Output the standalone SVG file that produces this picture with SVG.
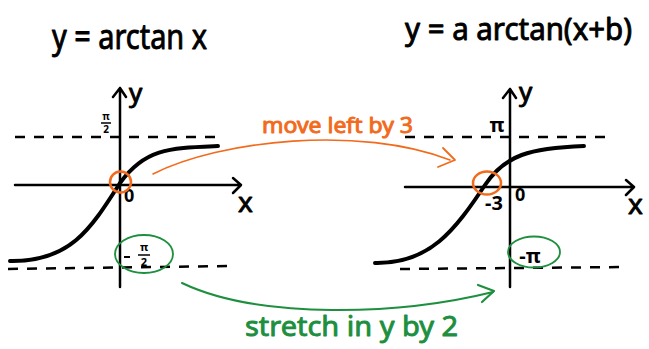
<svg xmlns="http://www.w3.org/2000/svg" width="649" height="349" viewBox="0 0 649 349">
<style>
  .ax{stroke:#000;stroke-width:2.5;fill:none;stroke-linecap:round;stroke-linejoin:round}
  .dash{stroke:#000;stroke-width:2.5;fill:none;stroke-dasharray:10 9}
  .curve{stroke:#000;stroke-width:4;fill:none;stroke-linecap:round}
  .or{stroke:#f26a1b;fill:none;stroke-linecap:round;stroke-linejoin:round}
  .gr{stroke:#1d8f3e;fill:none;stroke-linecap:round;stroke-linejoin:round}
  text{font-family:"Noto Sans","DejaVu Sans",sans-serif}
  .t{fill:#000}
  .h{stroke-width:0.9;stroke-linejoin:round}
</style>
<rect width="649" height="349" fill="#fff"/>

<g id="left-plot">
  <text class="t h" stroke="#000" x="52" y="49" font-size="34" textLength="155" lengthAdjust="spacingAndGlyphs">y = arctan x</text>
  <line class="dash" x1="15" y1="137" x2="218" y2="137"/>
  <path class="dash" d="M8,269 L233,266"/>
  <path class="ax" d="M120,88 L120,287 M113,97 L120,88 L126,97"/>
  <path class="ax" d="M15,185 L240,185 M233,178 L241,185 L233,193"/>
  <path class="curve" d="M10,261 C70,262 90,230 120,183 C145,148 170,148 218,146"/>
  <text class="t h" stroke="#000" x="129" y="102" font-size="26">y</text>
  <text class="t h" stroke="#000" x="238" y="212" font-size="28">x</text>
  <text class="t" x="124" y="202" font-size="18" font-weight="bold">0</text>
  <text class="t" x="106" y="120" font-size="10" font-weight="bold" text-anchor="middle">π</text>
  <line x1="101" y1="123" x2="111" y2="123" stroke="#000" stroke-width="1.5"/>
  <text class="t" x="106" y="133" font-size="10" font-weight="bold" text-anchor="middle">2</text>
  <line x1="124" y1="257" x2="130" y2="257" stroke="#000" stroke-width="2"/>
  <text class="t" x="144" y="251" font-size="11" font-weight="bold" text-anchor="middle">π</text>
  <line x1="138" y1="255" x2="150" y2="255" stroke="#000" stroke-width="1.5"/>
  <text class="t" x="144" y="266" font-size="11" font-weight="bold" text-anchor="middle">2</text>
  <circle class="or" cx="120.5" cy="182" r="10.5" stroke-width="2.5"/>
  <ellipse class="gr" cx="144" cy="254" rx="29" ry="19" stroke-width="1.8"/>
</g>

<g id="right-plot">
  <text class="t h" stroke="#000" x="405" y="40" font-size="30" textLength="227" lengthAdjust="spacingAndGlyphs">y = a arctan(x+b)</text>
  <line class="dash" x1="405" y1="137" x2="608" y2="137"/>
  <path class="dash" d="M400,269 L625,267"/>
  <path class="ax" d="M510,89 L510,287 M503,98 L510,89 L516,98"/>
  <path class="ax" d="M405,187 L633,187 M626,180 L634,187 L626,195"/>
  <path class="curve" d="M375,263 C430,264 455,230 485,185 C505,155 530,148 584,146"/>
  <text class="t h" stroke="#000" x="519" y="101" font-size="26">y</text>
  <text class="t h" stroke="#000" x="628" y="214" font-size="28">x</text>
  <text class="t" x="515" y="201" font-size="18" font-weight="bold">0</text>
  <text class="t" x="497" y="132" font-size="20" font-weight="bold" text-anchor="middle">π</text>
  <text class="t" x="494" y="210" font-size="20" font-weight="bold" text-anchor="middle">-3</text>
  <text class="t" x="530" y="263" font-size="20" font-weight="bold" text-anchor="middle">-π</text>
  <ellipse class="or" cx="487" cy="183" rx="14" ry="11.5" stroke-width="2.5"/>
  <ellipse class="gr" cx="534" cy="252" rx="26" ry="15.5" stroke-width="1.8"/>
</g>

<g id="connectors">
  <path class="or" stroke-width="1.6" d="M153,174 C220,140 360,125 450,160"/>
  <path class="or" stroke-width="1.8" d="M443,148 L455,160 L438,167"/>
  <path class="gr" stroke-width="2" d="M182,283 C260,320 400,315 493,292"/>
  <path class="gr" stroke-width="2.2" d="M478,285 L494,291 L482,302"/>
</g>

<g id="labels">
  <text class="h" stroke="#f26a1b" x="262" y="133" font-size="21" fill="#f26a1b" textLength="151" lengthAdjust="spacingAndGlyphs">move left by 3</text>
  <text class="h" stroke="#1d8f3e" x="245" y="336" font-size="28" fill="#1d8f3e" textLength="213" lengthAdjust="spacingAndGlyphs">stretch in y by 2</text>
</g>
</svg>
